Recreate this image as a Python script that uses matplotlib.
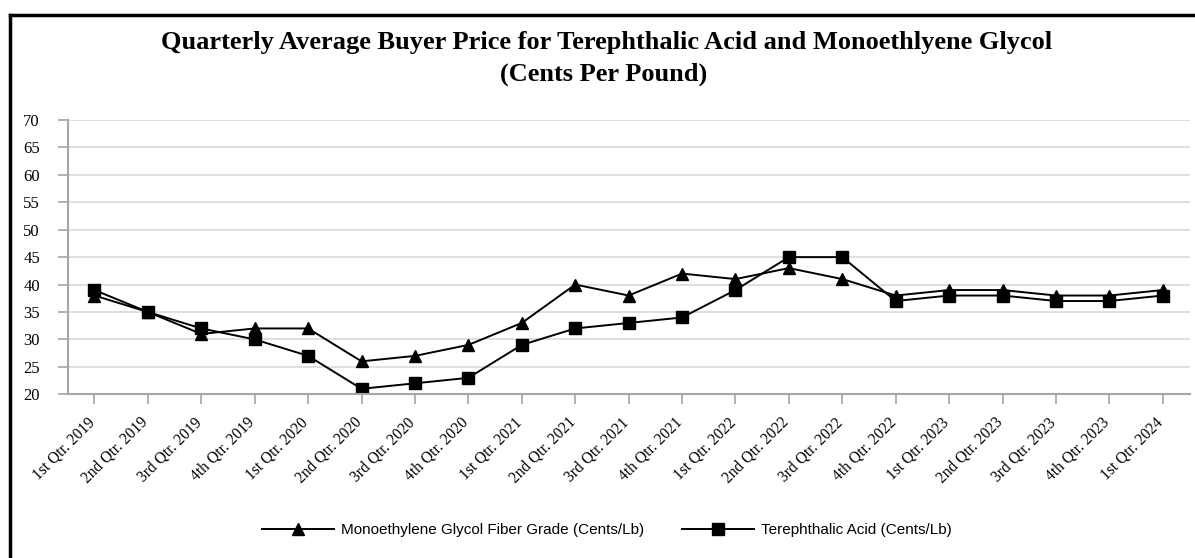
import matplotlib
matplotlib.use("Agg")
import matplotlib.pyplot as plt
import matplotlib.transforms as mtransforms
from matplotlib.lines import Line2D

# Quarter labels along the x axis
quarters = [
    "1st Qtr. 2019", "2nd Qtr. 2019", "3rd Qtr. 2019", "4th Qtr. 2019",
    "1st Qtr. 2020", "2nd Qtr. 2020", "3rd Qtr. 2020", "4th Qtr. 2020",
    "1st Qtr. 2021", "2nd Qtr. 2021", "3rd Qtr. 2021", "4th Qtr. 2021",
    "1st Qtr. 2022", "2nd Qtr. 2022", "3rd Qtr. 2022", "4th Qtr. 2022",
    "1st Qtr. 2023", "2nd Qtr. 2023", "3rd Qtr. 2023", "4th Qtr. 2023",
    "1st Qtr. 2024",
]

# Prices in cents per pound
meg = [38, 35, 31, 32, 32, 26, 27, 29, 33, 40, 38, 42, 41, 43, 41, 38, 39, 39, 38, 38, 39]
pta = [39, 35, 32, 30, 27, 21, 22, 23, 29, 32, 33, 34, 39, 45, 45, 37, 38, 38, 37, 37, 38]

yticks = list(range(20, 75, 5))

serif = ["Liberation Serif", "DejaVu Serif"]
sans = ["Liberation Sans", "DejaVu Sans"]

fig = plt.figure(figsize=(11.95, 5.58), dpi=100)
ax = fig.add_axes([0.0567, 0.2934, 0.9387, 0.4916])

x = list(range(len(quarters)))
ax.plot(x, meg, color="black", lw=1.4, marker="^", ms=8,
        label="Monoethylene Glycol Fiber Grade (Cents/Lb)")
ax.plot(x, pta, color="black", lw=1.4, marker="s", ms=8.5,
        label="Terephthalic Acid (Cents/Lb)")

ax.set_xlim(-0.5, len(quarters) - 0.5)
ax.set_ylim(20, 70)
ax.set_yticks(yticks)
ax.set_xticks(x)

ax.grid(axis="y", color="#d9d9d9", lw=1.2)
ax.set_axisbelow(True)
for side in ["top", "right"]:
    ax.spines[side].set_visible(False)
for side in ["left", "bottom"]:
    ax.spines[side].set_color("#a6a6a6")
    ax.spines[side].set_linewidth(1.5)
ax.tick_params(axis="y", length=7, width=1.2, color="#a6a6a6", pad=13)
ax.tick_params(axis="x", length=7, width=1.2, color="#a6a6a6", pad=6)

ax.set_xticklabels(quarters, rotation=45, ha="right", rotation_mode="anchor",
                   family=serif, fontsize=11.2)
# nudge the rotated labels so their ends sit under the ticks
# (done after tick_params, which would reset the transforms)
shift = mtransforms.ScaledTranslation(-8 / 100, -2 / 100, fig.dpi_scale_trans)
for lab in ax.get_xticklabels():
    lab.set_transform(lab.get_transform() + shift)
for lab in ax.get_yticklabels():
    lab.set_family(serif)
    lab.set_fontsize(12)

fig.text(0.508, 1 - 43 / 558, "Quarterly Average Buyer Price for Terephthalic Acid and Monoethlyene Glycol",
         ha="center", va="center", family=serif, fontweight="bold", fontsize=19)
fig.text(0.505, 1 - 74 / 558, "(Cents Per Pound)",
         ha="center", va="center", family=serif, fontweight="bold", fontsize=19)

fig.legend(loc="center", bbox_to_anchor=(0.508, 1 - 530 / 558), ncol=2, frameon=False,
           prop={"family": sans, "size": 11}, handlelength=4.7,
           columnspacing=2.5, handletextpad=0.45)

# Border lines along the top and left edges
fig.add_artist(Line2D([0.008, 1.0], [0.973, 0.973], color="black", lw=2.5,
                      transform=fig.transFigure))
fig.add_artist(Line2D([0.008, 0.008], [0.0, 0.973], color="black", lw=2.5,
                      transform=fig.transFigure))

fig.savefig("out.png", dpi=100)
